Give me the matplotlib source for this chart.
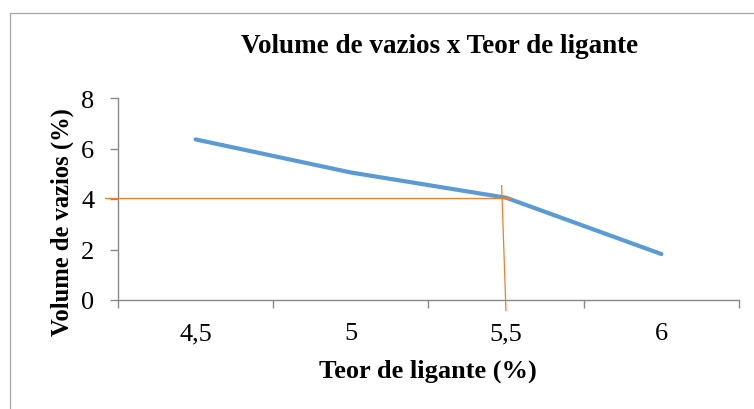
import matplotlib.pyplot as plt
import matplotlib.patches as mpatches

plt.rcParams['font.family'] = ['Liberation Serif', 'DejaVu Serif']

### DATA ###
categorias = ['4,5', '5', '5,5', '6']
volume_vazios = [6.36, 5.05, 4.05, 1.82]

# linhas de leitura (desenhadas a mao no original), em coordenadas do grafico
linha_h_x = [-0.584, 2.03]
linha_h_y = [4.05, 4.05]
linha_v_x = [1.971, 1.999]
linha_v_y = [4.53, -0.42]

azul = '#5B9BD5'
laranja = '#ED7D31'
cinza = '#898989'

### FIGURA ###
fig = plt.figure(figsize=(7.54, 4.10), dpi=100)
ax = fig.add_axes([118/754, 1-301/410, (739-118)/754, (301-99)/410])

x = list(range(len(categorias)))
ax.plot(x, volume_vazios, color=azul, linewidth=3.0, solid_capstyle='round', zorder=3)
ax.plot(linha_h_x, linha_h_y, color=laranja, linewidth=0.9, clip_on=False, zorder=4)
ax.plot(linha_v_x, linha_v_y, color=laranja, linewidth=0.9, clip_on=False, zorder=4)

ax.set_xlim(-0.5, len(categorias) - 0.5)
ax.set_ylim(0, 8)
ax.set_yticks([0, 2, 4, 6, 8])

# ticks nas fronteiras das categorias, rotulos no centro
ax.set_xticks([i - 0.5 for i in range(len(categorias) + 1)])
ax.set_xticklabels([])
ax.set_xticks(x, minor=True)
ax.set_xticklabels(categorias, minor=True)

ax.tick_params(axis='x', which='major', direction='out', length=6, width=1.0, color=cinza)
ax.tick_params(axis='x', which='minor', length=0, pad=16, labelsize=19)
ax.tick_params(axis='y', direction='out', length=6, width=1.0, color=cinza, pad=11, labelsize=19)

for s in ['top', 'right']:
    ax.spines[s].set_visible(False)
for s in ['left', 'bottom']:
    ax.spines[s].set_color(cinza)
    ax.spines[s].set_linewidth(1.0)

fig.text(440/754, 1-53/410, 'Volume de vazios x Teor de ligante', ha='center', va='baseline',
         fontsize=19.5, fontweight='bold')
fig.text(428/754, 1-378/410, 'Teor de ligante (%)', ha='center', va='baseline',
         fontsize=19, fontweight='bold')
fig.text(62/754, 1-222/410, 'Volume de vazios (%)', ha='center', va='center', rotation=90,
         fontsize=17.7, fontweight='bold')

# borda da area do grafico
borda = mpatches.Rectangle((10/754, -0.1), 1.0, 1.1 - 14/410, transform=fig.transFigure,
                           fill=False, edgecolor='#A6A6A6', linewidth=0.9)
fig.patches.append(borda)

fig.savefig('out.png', dpi=100)
